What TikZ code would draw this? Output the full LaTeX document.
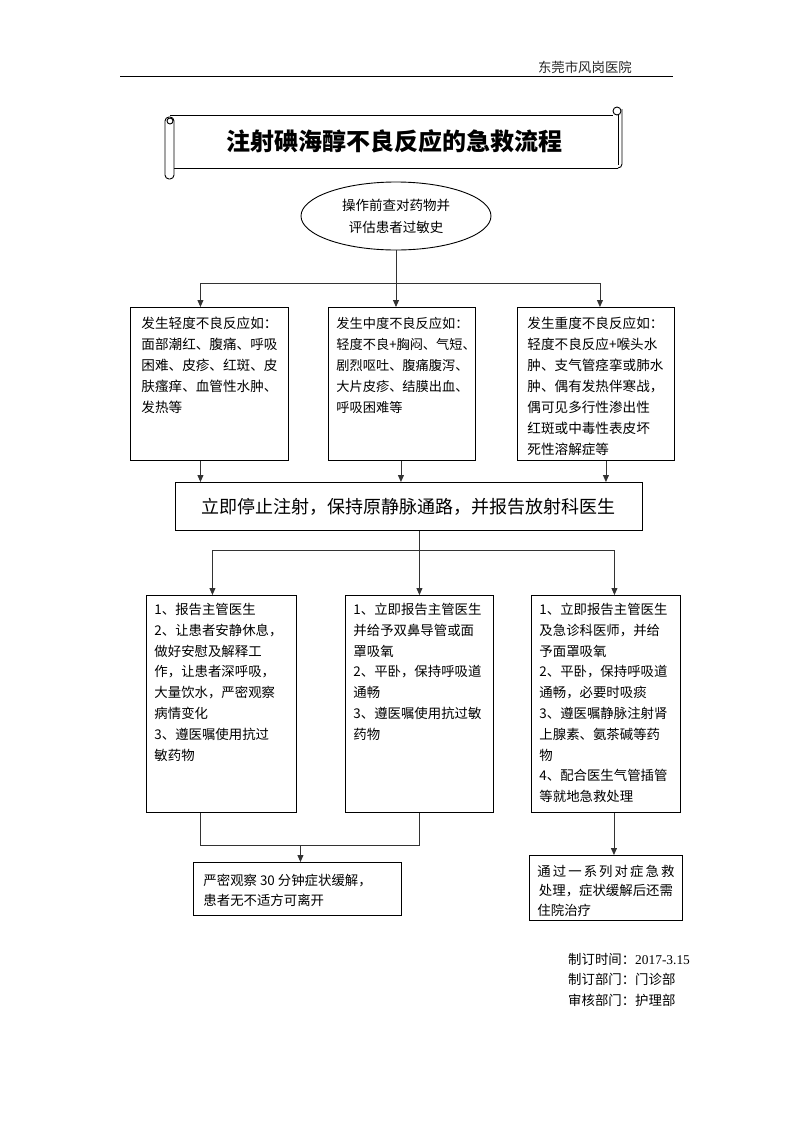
\documentclass[tikz,border=0pt]{standalone}
\usepackage{fontspec}
\setmainfont{Noto Sans CJK SC}
\newfontfamily\lat{Liberation Serif}
\usetikzlibrary{shapes.geometric,arrows.meta,calc}
% #1 width, #2 height, #3 left pad, #4 first baseline, #5 baselineskip, #6 font size, #7 text
\newcommand{\btext}[7]{\parbox[c][#2][t]{#1}{\raggedright\leftskip=#3\relax\parindent=0pt\fontsize{#6}{#5}\selectfont\rule{0pt}{#4}#7\par}}
\begin{document}
\begin{tikzpicture}[x=1pt,y=-1pt,
  box/.style={draw=black, line width=0.9pt, inner sep=0pt, anchor=north west},
  conn/.style={draw=black!80, line width=0.9pt},
  arr/.style={conn, -{Triangle[length=7pt,width=6pt]}},
  scrollline/.style={draw=black, line width=0.9pt}]
\useasboundingbox (0,0) rectangle (793,1122);

% header
\node[anchor=east, inner sep=0pt, text=black!85, font=\fontsize{13.4pt}{16pt}\selectfont] (hdr) at (632,67) {东莞市风岗医院};
\draw[line width=1pt] (120,76) -- (673,76);

% scroll title
\draw[scrollline] (170,115) -- (613,115);
\draw[scrollline] (174,168) -- (618,168);
\draw[scrollline] (622,109) -- (622,164) arc[start angle=0,end angle=90,radius=4] ;
\draw[scrollline] (618,115) -- (618,165);
\draw[scrollline] (617,111) circle[radius=4];
\draw[scrollline, fill=white, rounded corners=4pt] (165,117) rectangle (174,179);
\draw[scrollline] (170,121) circle[radius=3];
\node[font=\bfseries\fontsize{24pt}{28pt}\selectfont] (title) at (394,141) {注射碘海醇不良反应的急救流程};

% ellipse
\node[draw=black, line width=0.9pt, ellipse, minimum width=190pt, minimum height=68pt, inner sep=0pt, align=center, font=\fontsize{13.5pt}{22pt}\selectfont] (e) at (396,216) {操作前查对药物并\\评估患者过敏史};

% first row
\node[box] (b1) at (130,307) {\btext{158pt}{153pt}{11pt}{21pt}{21pt}{13.6pt}{发生轻度不良反应如：\\面部潮红、腹痛、呼吸\\困难、皮疹、红斑、皮\\肤瘙痒、血管性水肿、\\发热等}};
\node[box] (b2) at (328,307) {\btext{147pt}{153pt}{8pt}{21pt}{21pt}{13.2pt}{发生中度不良反应如：\\轻度不良+胸闷、气短、\\剧烈呕吐、腹痛腹泻、\\大片皮疹、结膜出血、\\呼吸困难等}};
\node[box] (b3) at (517,307) {\btext{157pt}{153pt}{10pt}{21pt}{21pt}{13.6pt}{发生重度不良反应如：\\轻度不良反应+喉头水\\肿、支气管痉挛或肺水\\肿、偶有发热伴寒战，\\偶可见多行性渗出性\\红斑或中毒性表皮坏\\死性溶解症等}};

% main box
\node[box, minimum width=467pt, minimum height=48pt] (m) at (175,482) {};
\node[font=\fontsize{18pt}{22pt}\selectfont] (mt) at (m.center) {立即停止注射，保持原静脉通路，并报告放射科医生};

% second row
\node[box] (ra) at (146,595) {\btext{150pt}{217pt}{8pt}{19pt}{20.8pt}{13.4pt}{1、报告主管医生\\2、让患者安静休息，\\做好安慰及解释工\\作，让患者深呼吸，\\大量饮水，严密观察\\病情变化\\3、遵医嘱使用抗过\\敏药物}};
\node[box] (rb) at (345,595) {\btext{148pt}{217pt}{8pt}{19pt}{20.8pt}{13.4pt}{1、立即报告主管医生\\并给予双鼻导管或面\\罩吸氧\\2、平卧，保持呼吸道\\通畅\\3、遵医嘱使用抗过敏\\药物}};
\node[box] (rc) at (531,595) {\btext{149pt}{217pt}{8pt}{19pt}{20.8pt}{13.4pt}{1、立即报告主管医生\\及急诊科医师，并给\\予面罩吸氧\\2、平卧，保持呼吸道\\通畅，必要时吸痰\\3、遵医嘱静脉注射肾\\上腺素、氨茶碱等药\\物\\4、配合医生气管插管\\等就地急救处理}};

% bottom boxes
\node[box] (d) at (193,862) {\btext{208pt}{53pt}{10pt}{23pt}{20pt}{13.4pt}{严密观察 30 分钟症状缓解，\\患者无不适方可离开}};
\node[box] (f) at (529,855) {\btext{153pt}{65pt}{8pt}{21pt}{19.5pt}{13.4pt}{\makebox[137pt]{通\hfill 过\hfill 一\hfill 系\hfill 列\hfill 对\hfill 症\hfill 急\hfill 救}\\\makebox[137pt]{处理，症状缓解后还需}\\住院治疗}};

% footer
\node[anchor=north west, inner sep=0pt, align=left, font=\fontsize{13.4pt}{20.5pt}\selectfont] (foot) at (568,953) {制订时间：{\lat 2017-3.15}\\制订部门：门诊部\\审核部门：护理部};

% connectors: ellipse to first row
\coordinate (j1) at ($(e.south)+(0,33)$);
\draw[conn] (e.south) -- (j1);
\draw[arr] (j1) -| ([xshift=-9pt]b1.north);
\draw[arr] (j1) -- (j1 |- b2.north);
\draw[arr] (j1) -| ([xshift=4pt]b3.north);

% first row to main box
\draw[arr] ([xshift=-9pt]b1.south) -- ([xshift=-9pt]b1.south |- m.north);
\draw[arr] ([xshift=-1pt]b2.south) -- ([xshift=-1pt]b2.south |- m.north);
\draw[arr] ([xshift=10pt]b3.south) -- ([xshift=10pt]b3.south |- m.north);

% main box to second row
\coordinate (j2) at ($(m.south)+(10.5,20)$);
\draw[conn] ([xshift=10.5pt]m.south) -- (j2);
\draw[arr] (j2) -| ([xshift=-9pt]ra.north);
\draw[arr] (j2) -- (j2 |- rb.north);
\draw[arr] (j2) -| ([xshift=8.5pt]rc.north);

% second row to bottom boxes
\coordinate (j3) at ($(ra.south)+(-21,33)$);
\draw[conn] ([xshift=-21pt]ra.south) -- (j3) -| (rb.south);
\coordinate (j4) at (d.north |- j3);
\draw[arr] ([xshift=3pt]j4) -- ([xshift=3pt]d.north);
\draw[arr] ([xshift=8pt]rc.south) -- ([xshift=8pt]rc.south |- f.north);
\end{tikzpicture}
\end{document}
